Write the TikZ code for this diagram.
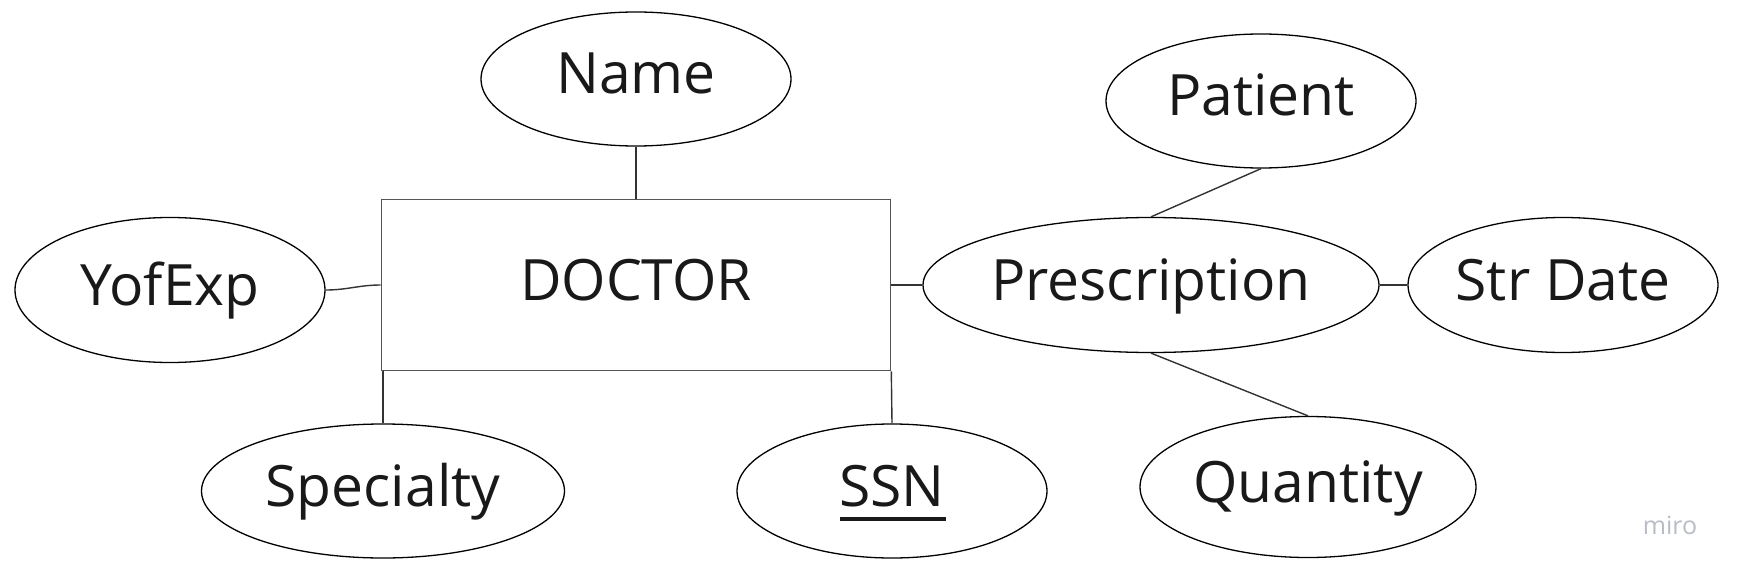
\documentclass[tikz,border=0pt]{standalone}
\usepackage{fontspec}
\setmainfont{Open Sans}
\usetikzlibrary{shapes.geometric}
\definecolor{linegray}{HTML}{333333}
\definecolor{rectgray}{HTML}{555555}
\definecolor{mirogray}{HTML}{B8BCC4}
\begin{document}
\begin{tikzpicture}[x=1pt,y=-1pt,
  lbl/.style={font=\fontsize{57}{60}\selectfont, text=black!90, text height=44pt, text depth=14pt, inner sep=0pt},
  attr/.style={lbl, ellipse, draw=black, line width=1.3pt},
  ent/.style={lbl, rectangle, draw=rectgray, line width=1.6pt},
  conn/.style={draw=linegray, line width=1.4pt}]
\useasboundingbox[fill=white] (0,0) rectangle (1737,575);
\node[ent, minimum width=509pt, minimum height=171pt] (doc) at (636,285) {DOCTOR};
\node[attr, minimum width=310pt, minimum height=134pt] (name) at (636,79) {Name};
\node[attr, minimum width=310pt, minimum height=145pt] (yof) at (170,290) {YofExp};
\node[attr, minimum width=363pt, minimum height=134pt] (spec) at (383,491) {Specialty};
\node[attr, minimum width=310pt, minimum height=134pt] (ssn) at (892,491) {SSN};
\node[attr, minimum width=456pt, minimum height=135pt] (presc) at (1151,285) {Prescription};
\node[attr, minimum width=310pt, minimum height=134pt] (pat) at (1261,101) {Patient};
\node[attr, minimum width=310pt, minimum height=135pt] (str) at (1563,285) {Str Date};
\node[attr, minimum width=336pt, minimum height=141pt] (qty) at (1308,487) {Quantity};
\node[font=\fontsize{25}{28}\selectfont, text=mirogray, inner sep=0pt] (miro) at (1670,525) {miro};
% underline of key attribute
\coordinate (ulA) at (840,519);
\coordinate (ulB) at (946,519);
\draw[line width=4.5pt, black!90] (ulA) -- (ulB);
% connectors
\draw[conn] (name.south) -- (doc.north);
\draw[conn] (yof.east) to[out=0,in=180] (doc.west);
\draw[conn] (spec.north) -- (spec.north |- doc.south);
\draw[conn] (doc.south east) -- (ssn.north);
\draw[conn] (doc.east) -- (presc.west);
\draw[conn] (pat.south) -- (presc.north);
\draw[conn] (presc.east) -- (str.west);
\draw[conn] (presc.south) -- (qty.north);
\end{tikzpicture}
\end{document}
